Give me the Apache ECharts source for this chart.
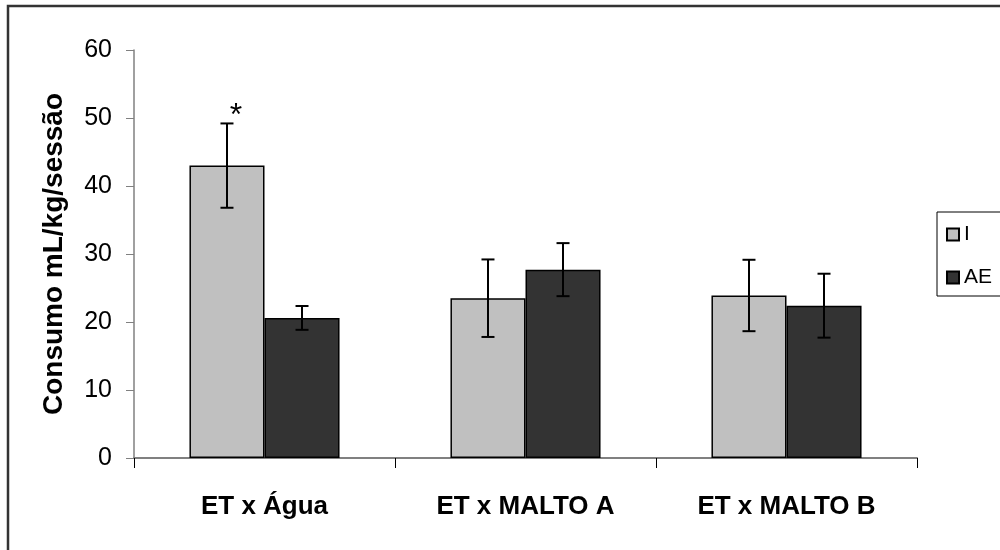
<!DOCTYPE html>
<html>
<head>
<meta charset="utf-8">
<script src="https://cdn.jsdelivr.net/npm/echarts@6/dist/echarts.min.js"></script>
<style>
  html, body { margin: 0; padding: 0; background: #fff; }
  #chart { width: 1000px; height: 550px; }
</style>
</head>
<body>
<div id="chart"></div>
<script>
// Groups and measured consumption (mean ± error) per condition
const categories = ['ET x Água', 'ET x MALTO A', 'ET x MALTO B'];
const seriesNames = ['I', 'AE'];
const valuesI = [43.0, 23.5, 23.9];
const errorsI = [6.2, 5.7, 5.25];
const valuesAE = [20.6, 27.7, 22.4];
const errorsAE = [1.75, 3.9, 4.7];
const significanceI = ['*', '', ''];
const yTicks = [0, 10, 20, 30, 40, 50, 60];

const FONT = "'Liberation Sans', Arial, sans-serif";
const colors = ['#c0c0c0', '#333333'];
const barCategoryGap = 0.425;

const chart = echarts.init(document.getElementById('chart'), null, { renderer: 'canvas' });

// Error bar data: [category index, mean, error, series index]
const errData = [];
const errMarks = [];
categories.forEach((c, i) => {
  errData.push([i, valuesI[i], errorsI[i], 0]);
  errMarks.push(significanceI[i]);
  errData.push([i, valuesAE[i], errorsAE[i], 1]);
  errMarks.push('');
});

function renderError(params, api) {
  const cat = api.value(0);
  const mean = api.value(1);
  const err = api.value(2);
  const sIdx = api.value(3);
  const mark = errMarks[params.dataIndex];
  const band = api.size([1, 0])[0];
  const barW = band * (1 - barCategoryGap) / 2;
  const center = api.coord([cat, 0])[0];
  const x = center + (sIdx === 0 ? -barW / 2 : barW / 2);
  const top = api.coord([cat, mean + err])[1];
  const bot = api.coord([cat, mean - err])[1];
  const cap = 6.5;
  const style = { stroke: '#000', lineWidth: 2 };
  const children = [
    { type: 'line', shape: { x1: x, y1: top, x2: x, y2: bot }, style },
    { type: 'line', shape: { x1: x - cap, y1: top, x2: x + cap, y2: top }, style },
    { type: 'line', shape: { x1: x - cap, y1: bot, x2: x + cap, y2: bot }, style }
  ];
  if (mark) {
    children.push({
      type: 'text',
      style: {
        text: mark, x: x + 9, y: top - 7,
        fill: '#000', font: '32px ' + FONT,
        align: 'center', verticalAlign: 'middle'
      }
    });
  }
  return { type: 'group', children };
}

const option = {
  animation: false,
  backgroundColor: '#fff',
  textStyle: { fontFamily: FONT },
  grid: { left: 134, right: 83, top: 50, bottom: 92, containLabel: false },
  legend: {
    orient: 'vertical',
    left: 946,
    top: 224,
    padding: 0,
    itemWidth: 12,
    itemHeight: 12,
    itemGap: 22,
    icon: 'rect',
    textStyle: { fontSize: 21, color: '#000', fontFamily: FONT },
    data: seriesNames
  },
  xAxis: {
    type: 'category',
    data: categories,
    axisLine: { lineStyle: { color: '#808080', width: 2 } },
    axisTick: { show: true, length: 10, lineStyle: { color: '#000', width: 1 } },
    axisLabel: { fontSize: 26, fontWeight: 'bold', color: '#000', margin: 36, fontFamily: FONT },
    splitLine: { show: false }
  },
  yAxis: {
    type: 'value',
    min: yTicks[0],
    max: yTicks[yTicks.length - 1],
    interval: 10,
    name: 'Consumo mL/kg/sessão',
    nameLocation: 'middle',
    nameGap: 66,
    nameTextStyle: { fontSize: 28, fontWeight: 'bold', color: '#000', fontFamily: FONT },
    axisLine: { show: true, lineStyle: { color: '#808080', width: 1.5 } },
    axisTick: { show: true, length: 8, lineStyle: { color: '#808080' } },
    axisLabel: { fontSize: 25, color: '#000', margin: 22, fontFamily: FONT },
    splitLine: { show: false }
  },
  series: [
    {
      name: seriesNames[0],
      type: 'bar',
      data: valuesI,
      barGap: '0%',
      barCategoryGap: (barCategoryGap * 100) + '%',
      itemStyle: { color: colors[0], borderColor: '#000', borderWidth: 1.5 }
    },
    {
      name: seriesNames[1],
      type: 'bar',
      data: valuesAE,
      barGap: '0%',
      barCategoryGap: (barCategoryGap * 100) + '%',
      itemStyle: { color: colors[1], borderColor: '#000', borderWidth: 1.5 }
    },
    {
      type: 'custom',
      renderItem: renderError,
      data: errData,
      encode: { x: 0, y: [1] },
      z: 10,
      silent: true,
      tooltip: { show: false }
    }
  ],
  graphic: [
    {
      type: 'rect',
      shape: { x: 8, y: 6, width: 1000, height: 560 },
      style: { fill: 'none', stroke: '#333', lineWidth: 2.5 },
      silent: true
    },
    {
      type: 'rect',
      shape: { x: 937, y: 212, width: 80, height: 84 },
      style: { fill: 'none', stroke: '#000', lineWidth: 1 },
      silent: true
    }
  ]
};

chart.setOption(option);
</script>
</body>
</html>
